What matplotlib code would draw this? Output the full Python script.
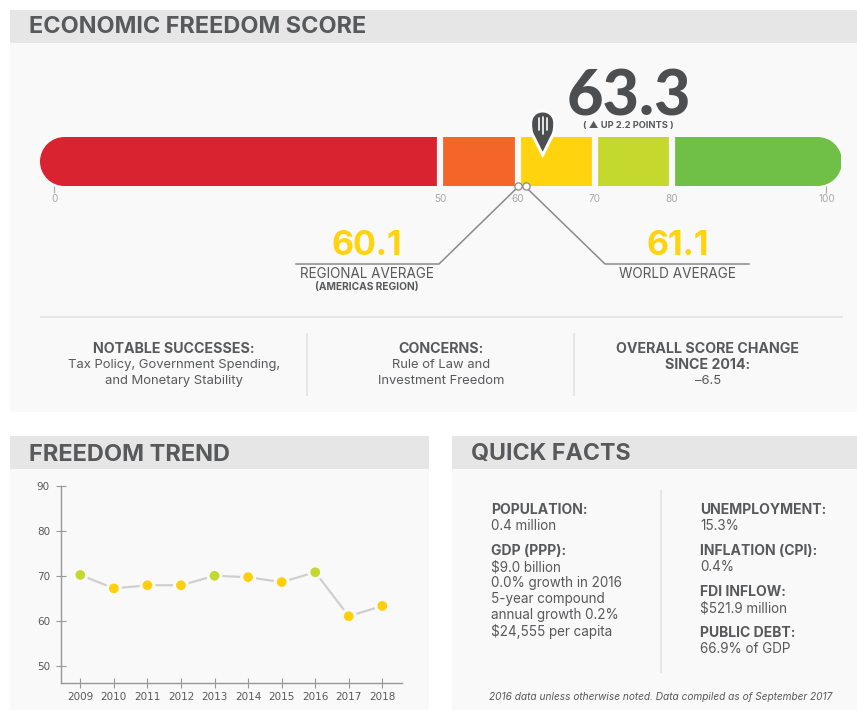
import matplotlib
matplotlib.use("Agg")
import matplotlib.pyplot as plt
from matplotlib.patches import Rectangle, PathPatch
from matplotlib.path import Path
import numpy as np

# ---------- data ----------
score = 63.3
change_label = "( ▲ UP 2.2 POINTS )"
band_edges = [-1.8, 50, 60, 70, 80, 102]
band_colors = ["#da2330", "#f4652a", "#ffd30d", "#c4d82e", "#70bf47"]
gauge_ticks = [0, 50, 60, 70, 80, 100]
regional_avg = 60.1
world_avg = 61.1

years = [2009, 2010, 2011, 2012, 2013, 2014, 2015, 2016, 2017, 2018]
trend = [70.2, 67.2, 67.9, 67.9, 70.0, 69.7, 68.6, 70.8, 61.0, 63.3]
trend_yticks = [50, 60, 70, 80, 90]

left_facts = [("POPULATION:", ["0.4 million"]),
              ("GDP (PPP):", ["$9.0 billion", "0.0% growth in 2016", "5-year compound",
                              "annual growth 0.2%", "$24,555 per capita"])]
right_facts = [("UNEMPLOYMENT:", ["15.3%"]),
               ("INFLATION (CPI):", ["0.4%"]),
               ("FDI INFLOW:", ["$521.9 million"]),
               ("PUBLIC DEBT:", ["66.9% of GDP"])]

# ---------- setup ----------
W, H = 857, 710
FONT = ["Inter", "DejaVu Sans"]
DARK = "#58595b"
PANEL = "#f9f9f9"
HEAD = "#e6e6e6"
YEL = "#ffd30d"
plt.rcParams["font.family"] = FONT
fig = plt.figure(figsize=(W / 100, H / 100), dpi=100, facecolor="white")

bg = fig.add_axes([0, 0, 1, 1])
bg.set_xlim(0, W); bg.set_ylim(H, 0); bg.axis("off")

def T(x, y, s, px, weight="normal", color=DARK, ha="left", style="normal", ax=bg, **kw):
    return ax.text(x, y + 1.2, s, fontsize=px * 0.72, fontweight=weight, color=color, ha=ha,
                   va="center", style=style, **kw)

def rect(x0, y0, x1, y1, c):
    bg.add_patch(Rectangle((x0, y0), x1 - x0, y1 - y0, fc=c, ec="none"))

def line(x0, y0, x1, y1, c=HEAD, lw=2.0):
    bg.plot([x0, x1], [y0, y1], color=c, lw=lw * 0.72, solid_capstyle="butt")

# panels
rect(10, 43, 857, 412, PANEL); rect(10, 10, 857, 43, HEAD)
rect(10, 469, 429, 710, PANEL); rect(10, 436, 429, 469, HEAD)
rect(452, 469, 857, 710, PANEL); rect(452, 436, 857, 469, HEAD)
T(29, 26, "ECONOMIC FREEDOM SCORE", 23.5, "bold")
T(29, 453.5, "FREEDOM TREND", 23.6, "bold")
T(471, 452.5, "QUICK FACTS", 23.2, "bold")

# ---------- gauge: x in score units, y in pixels ----------
PX = 7.72
X0 = 54
g = fig.add_axes([0, 0, 1, 1])
g.set_xlim((0 - X0) / PX, (W - X0) / PX); g.set_ylim(H, 0); g.axis("off"); g.patch.set_alpha(0)

R = 24.5
la, ra = Path.arc(90, 270), Path.arc(-90, 90)
lv = la.vertices * R + [40 + R, 161.5]
rv = ra.vertices * R + [842 - R, 161.5]
cverts = np.vstack([lv, rv, lv[:1]])
ccodes = np.concatenate([la.codes, [Path.LINETO], ra.codes[1:], [Path.CLOSEPOLY]])
clip = PathPatch(Path(cverts, ccodes), transform=bg.transData, fc="none", ec="none")
for i, c in enumerate(band_colors):
    b = g.barh(161.5, band_edges[i + 1] - band_edges[i], left=band_edges[i], height=49, color=c, lw=0)[0]
    b.set_clip_path(clip)
for e in band_edges[1:-1]:
    g.vlines(e + 0.05, 136, 187, color=PANEL, lw=6.2 * 0.72)

for t in gauge_ticks:
    T(t + 0.05, 197.5, str(t), 10, color="#a8a8a8", ha="center", ax=g)
g.vlines([0, 100], 186, 193, color="#a8a8a8", lw=0.8)

# pin
verts = [(0, 155), (-9, 137), (-12, 132), (-12, 128), (-12, 123), (-12, 116), (-7, 111), (0, 111),
         (7, 111), (12, 116), (12, 123), (12, 128), (12, 132), (9, 137), (0, 155), (0, 155)]
codes = [Path.MOVETO, Path.LINETO] + [Path.CURVE4] * 12 + [Path.LINETO, Path.CLOSEPOLY]
pin = Path([(score + x / PX, y) for x, y in verts], codes)
g.add_patch(PathPatch(pin, fc="#4d4e50", ec="white", lw=3 * 0.72, zorder=5, joinstyle="miter"))
for dx, y0, y1 in [(-4, 118, 130), (0, 117, 134), (4, 118, 130)]:
    g.plot([score + dx / PX] * 2, [y0, y1], color="white", lw=1.2, zorder=6, solid_capstyle="round")

bg.text(628.5, 115.5, str(score), fontsize=63 * 0.72, fontweight="black", family=["Lato", "DejaVu Sans"],
        ha="center", va="baseline", color="#4d4e50")
T(628, 124.5, change_label, 9.3, "bold", ha="center")

# average leaders
lc = "#8a8a8a"
g.plot([(296 - X0) / PX, (439 - X0) / PX, regional_avg], [264, 264, 187], color=lc, lw=1.1)
g.plot([(749 - X0) / PX, (605 - X0) / PX, world_avg], [264, 264, 187], color=lc, lw=1.1)
g.plot([regional_avg, world_avg], [185.5, 185.5], ls="none", marker="o", ms=5.2, mfc="white", mec=lc, mew=0.9, zorder=7)
T(367, 244.5, str(regional_avg), 34, "bold", color=YEL, ha="center")
T(678, 244.5, str(world_avg), 34, "bold", color=YEL, ha="center")
T(367, 273, "REGIONAL AVERAGE", 13.5, ha="center")
T(367, 286, "(AMERICAS REGION)", 10.2, "bold", ha="center")
T(677, 273, "WORLD AVERAGE", 13.6, ha="center")

# summary
line(40, 317, 843, 317)
line(307.5, 333, 307.5, 396); line(574.5, 333, 574.5, 396)
cols = [(174, ["NOTABLE SUCCESSES:", "Tax Policy, Government Spending,", "and Monetary Stability"], 1),
        (441, ["CONCERNS:", "Rule of Law and", "Investment Freedom"], 1),
        (708, ["OVERALL SCORE CHANGE", "SINCE 2014:", "–6.5"], 2)]
for x, rows, nb in cols:
    for i, s in enumerate(rows):
        T(x, 347.5 + 16 * i, s, 14.2 if i < nb else 13, "bold" if i < nb else "normal", ha="center")

# ---------- trend ----------
ax = fig.add_axes([60.7 / W, 1 - 682.7 / H, (402 - 60.7) / W, (682.7 - 486) / H])
ax.patch.set_alpha(0)
ax.set_ylim(46.2, 90)
ax.set_xlim(2009 - (80.3 - 60.7) / 33.56, 2009 + (402 - 80.3) / 33.56)
colors = ["#c4d82e" if v >= 70 else "#ffcf0a" for v in trend]
ax.plot(years, trend, color="#cfcfcf", lw=1.6, zorder=1)
ax.scatter(years, trend, s=85, c=colors, edgecolors=PANEL, linewidths=2.2, zorder=2)
for s in ("top", "right"):
    ax.spines[s].set_visible(False)
for s in ("left", "bottom"):
    ax.spines[s].set_color("#98989c"); ax.spines[s].set_linewidth(1.0)
ax.set_xticks(years); ax.set_yticks(trend_yticks)
ax.tick_params(axis="both", direction="inout", length=6.5, width=0.8, color="#98989c",
               labelcolor=DARK, labelsize=7.5)
ax.tick_params(axis="y", pad=4.5)
ax.tick_params(axis="x", pad=3.5)
for lab in ax.get_xticklabels() + ax.get_yticklabels():
    lab.set_family("DejaVu Sans")

# ---------- quick facts ----------
line(661, 490, 661, 673)
def facts(x, items, ys):
    for (head, rows), y in zip(items, ys):
        T(x, y, head, 14, "bold")
        for i, s in enumerate(rows):
            T(x, y + 16 * (i + 1), s, 13.5)
facts(491, left_facts, [508.5, 550])
facts(700, right_facts, [508.5, 550, 591, 632])
T(661, 696, "2016 data unless otherwise noted. Data compiled as of September 2017", 10.1, ha="center", style="italic")

fig.savefig("out.png", dpi=100, facecolor="white")
